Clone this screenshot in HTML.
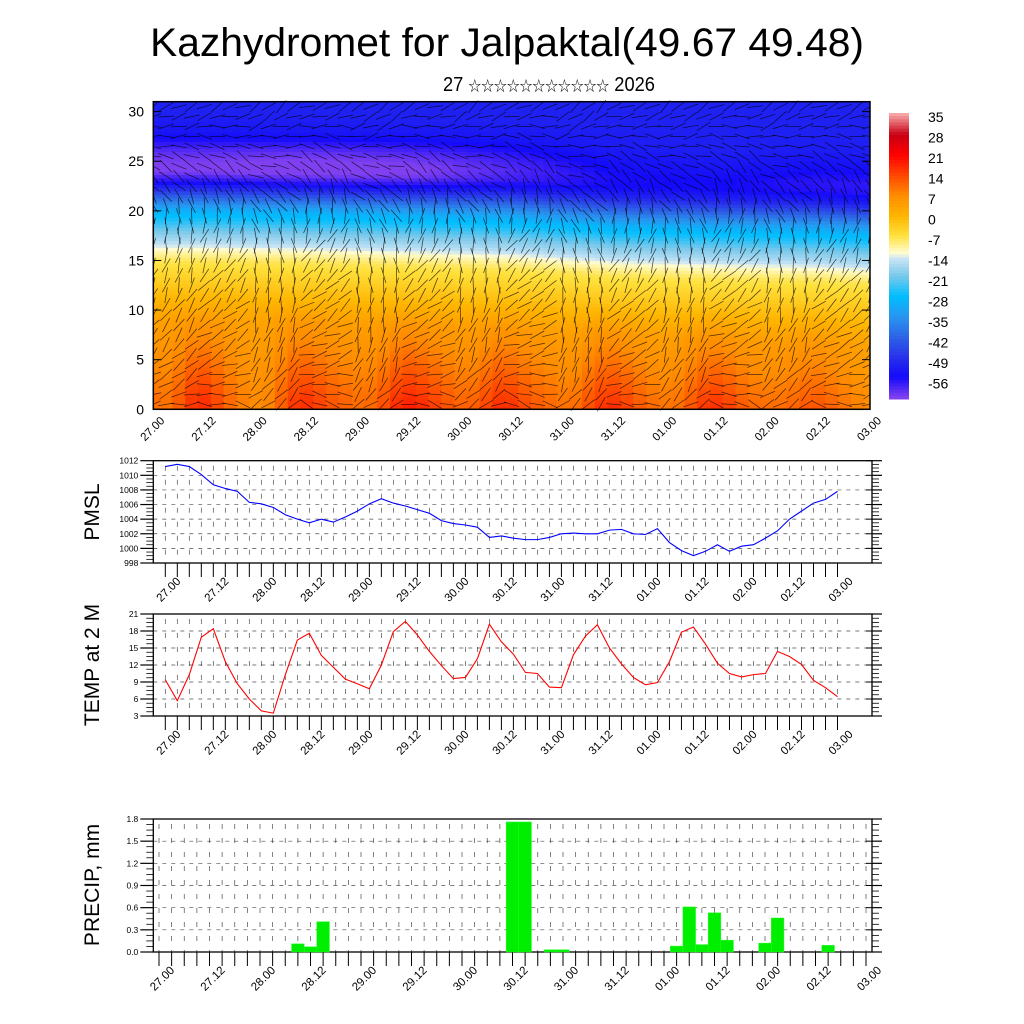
<!DOCTYPE html>
<html><head><meta charset="utf-8"><style>
html,body{margin:0;padding:0;background:#fff;}
svg{display:block;font-family:"Liberation Sans","Noto Sans CJK SC",sans-serif;}
</style></head><body>
<svg id="chart" width="1024" height="1024" viewBox="0 0 1024 1024" xmlns="http://www.w3.org/2000/svg">
<text x="150" y="56" font-size="40" textLength="714" lengthAdjust="spacingAndGlyphs">Kazhydromet for Jalpaktal(49.67 49.48)</text>
<text x="443" y="91" font-size="20" textLength="212" lengthAdjust="spacingAndGlyphs">27 <tspan font-size="14">☆☆☆☆☆☆☆☆☆☆☆</tspan> 2026</text>
<g id="topPanel"></g>
<g id="cbar"></g>
<g id="pmsl"></g>
<g id="temp"></g>
<g id="prec"></g>
</svg>
<script>
const timeLabels=["27.00","27.12","28.00","28.12","29.00","29.12","30.00","30.12","31.00","31.12","01.00","01.12","02.00","02.12","03.00"];
const pmslValues=[1011.2,1011.5,1011.2,1010.1,1008.7,1008.2,1007.8,1006.3,1006.1,1005.6,1004.6,1004.0,1003.5,1004.0,1003.6,1004.3,1005.1,1006.1,1006.8,1006.2,1005.8,1005.3,1004.8,1003.8,1003.4,1003.2,1002.9,1001.5,1001.7,1001.4,1001.2,1001.2,1001.5,1002.0,1002.1,1002.0,1002.0,1002.5,1002.6,1002.0,1001.9,1002.7,1000.8,999.7,999.0,999.6,1000.5,999.6,1000.3,1000.5,1001.4,1002.4,1004.0,1005.1,1006.2,1006.7,1007.8];
const tempValues=[9.4,5.7,10.3,16.9,18.4,12.6,8.7,6.0,3.9,3.5,10.3,16.4,17.6,13.7,11.6,9.5,8.7,7.8,12.0,17.9,19.7,17.3,14.4,11.9,9.6,9.8,13.1,19.2,16.1,13.9,10.7,10.5,8.1,8.0,13.8,17.1,19.1,15.0,12.2,9.8,8.5,8.9,12.6,17.8,18.7,15.7,12.3,10.5,9.9,10.3,10.5,14.4,13.5,12.1,9.3,8.0,6.4];
const precipValues=[0,0,0,0,0,0,0,0,0,0,0,0.11,0.07,0.41,0,0,0,0,0,0,0,0,0,0,0,0,0,0,1.76,1.76,0,0.03,0.03,0,0,0,0,0,0,0,0,0.08,0.61,0.10,0.53,0.16,0,0,0.12,0.46,0,0,0,0.09,0,0,0];
const pmslTicks=[998,1000,1002,1004,1006,1008,1010,1012];
const tempTicks=[3,6,9,12,15,18,21];
const precipTicks=["0.0","0.3","0.6","0.9","1.2","1.5","1.8"];
const heightTicks=[0,5,10,15,20,25,30];
const tempProfile=[12,11,10,9,8,7,6,5,4,2,0,-2,-4,-6,-8,-12,-17,-21,-26,-30,-37,-45,-53,-58,-59,-58,-56,-54,-53,-52,-52];
const upperAnomByDay=[-5,-6,-5,-1,3,4,2,2];
const levelShiftByDay=[0.5,0.3,0,-0.3,-1,-1.3,-1.5,-2];
const cbarLabels=[35,28,21,14,7,0,-7,-14,-21,-28,-35,-42,-49,-56];
const windDirByLevel=[80,70,60,55,50,45,40,40,35,30,30,25,20,20,15,10,10,5,0,-10,-20,-30,-40,-50,-60,-70,-80,-90,-100,-110,-120];
const windDirByHalfDay=[0,20,-25,30,-30,25,-20,35,-35,15,-25,30,-20,20,0];

const NS="http://www.w3.org/2000/svg";
function el(tag,attrs,parent,txt){const e=document.createElementNS(NS,tag);for(const k in attrs)e.setAttribute(k,attrs[k]);if(txt!==undefined)e.textContent=txt;parent.appendChild(e);return e;}
const stops=[[-63,[128,64,240]],[-56,[20,10,250]],[-49,[40,50,235]],[-42,[45,100,230]],[-35,[40,150,240]],[-28,[0,190,255]],[-21,[120,200,235]],[-15,[200,228,245]],[-13,[255,252,210]],[-7,[255,225,60]],[0,[255,180,0]],[7,[255,140,0]],[14,[255,70,0]],[21,[255,0,0]],[28,[200,0,20]],[35,[245,165,165]]];
function colorOf(v){if(v<=stops[0][0])return `rgb(${stops[0][1]})`;for(let i=1;i<stops.length;i++){if(v<=stops[i][0]){const a=stops[i-1],b=stops[i];const t=(v-a[0])/(b[0]-a[0]);const c=a[1].map((x,k)=>Math.round(x+(b[1][k]-x)*t));return `rgb(${c})`;}}return `rgb(${stops[stops.length-1][1]})`;}
function lerpArr(arr,f){const i=Math.max(0,Math.min(arr.length-1,f));const a=Math.floor(i),b=Math.min(arr.length-1,a+1);return arr[a]+(arr[b]-arr[a])*(i-a);}

// ---------- top panel ----------
const topG=document.getElementById('topPanel');
const TL=153.3,TR=870,TT=101.7,TB=409.3;
const tx=i=>TL+(TR-TL)*i/(pmslValues.length-1);
const hy=h=>TB-(TB-TT)*h/31;
const cw=(TR-TL)/(pmslValues.length-1);
const SUB=3, rh=(TB-TT)/31/SUB;
for(let i=0;i<tempValues.length;i++){
  const dayF=i/8-0.5;
  const sh=lerpArr(levelShiftByDay,dayF), ua=lerpArr(upperAnomByDay,dayF);
  const tS=(i>0?tempValues[i-1]:tempValues[i])*0.25+tempValues[i]*0.5+(i<56?tempValues[i+1]:tempValues[i])*0.25;
  for(let s=0;s<31*SUB;s++){
    const h=(s+0.5)/SUB;
    const w=Math.max(0,1-h/11);
    const uw=Math.max(0,1-Math.abs(h-24)/4);
    const v=lerpArr(tempProfile,h-0.5-sh)+(tS-11)*0.8*w+ua*uw;
    const x0=Math.max(TL,tx(i)-cw/2),x1=Math.min(TR,tx(i)+cw/2);
    const r=el('rect',{x:x0,y:TB-rh*(s+1),width:x1-x0+0.6,height:rh+0.6,fill:colorOf(v)},topG);
    
    
  }
}
const wg=el('g',{stroke:'#000','stroke-width':0.75,'stroke-opacity':0.7},topG);
for(let i=0;i<tempValues.length;i++){
  for(let j=0;j<31;j++){
    const a=(windDirByLevel[j]+windDirByHalfDay[Math.floor(i/4)]*(1-j/40)+((i*7+j*13)%5-2)*8)*Math.PI/180;
    const x=tx(i),y=hy(j+0.5),L=8;
    const dx=Math.sin(a)*L,dy=Math.cos(a)*L;
    const ln=el('line',{x1:x-dx,y1:y+dy,x2:x+dx,y2:y-dy},wg);
    
    
  }
}
el('rect',{x:0,y:0,width:TL,height:TB+2,fill:'#fff'},topG);
el('rect',{x:TR,y:0,width:16,height:TB+2,fill:'#fff'},topG);
el('rect',{x:TL,y:TT,width:TR-TL,height:TB-TT,fill:'none',stroke:'#000','stroke-width':1.5},topG);
heightTicks.forEach(h=>{
  el('line',{x1:TL,x2:TL+8,y1:hy(h),y2:hy(h),stroke:'#000'},topG);
  el('line',{x1:TR,x2:TR-8,y1:hy(h),y2:hy(h),stroke:'#000'},topG);
  const t=el('text',{x:144,y:hy(h)+5,'font-size':14,'text-anchor':'end'},topG,h);
  
  
});
timeLabels.forEach((lb,k)=>{
  const x=TL+(TR-TL)*k/(timeLabels.length-1);
  const t=el('text',{transform:`translate(${x+12},${TB+12}) rotate(-45)`,'font-size':11.5,'text-anchor':'end'},topG,lb);
  
  
});

// ---------- colour bar ----------
const cb=document.getElementById('cbar');
const CB0=113,CB1=399,n=91;
for(let k=0;k<n;k++){
  const v=35-(98*k/(n-1));
  el('rect',{x:889,y:CB0+(CB1-CB0)*k/n,width:20,height:(CB1-CB0)/n+0.5,fill:colorOf(v)},cb);
}
cbarLabels.forEach((v,k)=>{
  const t=el('text',{x:928,y:122+k*20.5,'font-size':14},cb,v);
  
  
});

// ---------- line/bar panels ----------
function panel(g,pt,bot,min,max,ticks,title,titleY,x0,x1,L,R){
  const y=v=>bot-(bot-pt)*(v-min)/(max-min);
  const x=i=>x0+(x1-x0)*i/56;
  const gg=el('g',{stroke:'#000','stroke-width':0.7,'stroke-dasharray':'4,5','stroke-opacity':0.7},g);
  ticks.forEach(t=>el('line',{x1:L,x2:R,y1:y(+t),y2:y(+t)},gg));
  for(let i=0;i<=56;i++){el('line',{x1:x(i),x2:x(i),y1:pt+5,y2:bot,'stroke-dasharray':'5,9'},gg);}
  for(let i=0;i<=56;i++)el('line',{x1:x(i),x2:x(i),y1:bot,y2:bot+14,stroke:'#000','stroke-width':1},g);
  const step=(+ticks[1])-(+ticks[0]);
  for(let k=0;k<ticks.length;k++){
    const v=+ticks[k];
    el('line',{x1:L-13,x2:L,y1:y(v),y2:y(v),stroke:'#000','stroke-width':1.2},g);
    el('line',{x1:R,x2:R+10,y1:y(v),y2:y(v),stroke:'#000','stroke-width':1.2},g);
    el('line',{x1:R-6,x2:R,y1:y(v),y2:y(v),stroke:'#000','stroke-width':1},g);
    if(k<ticks.length-1)for(let m=1;m<4;m++){const vv=v+step*m/4;
      el('line',{x1:L-7,x2:L,y1:y(vv),y2:y(vv),stroke:'#000','stroke-width':0.8},g);
      el('line',{x1:R,x2:R+7,y1:y(vv),y2:y(vv),stroke:'#000','stroke-width':0.8},g);}
    const t=el('text',{x:L-15,y:y(v)+3,'font-size':8.5,'text-anchor':'end'},g,ticks[k]);
    
    
  }
  el('rect',{x:L,y:pt,width:R-L,height:bot-pt,fill:'none',stroke:'#000','stroke-width':1.3},g);
  timeLabels.forEach((lb,k)=>{
    const xx=x0+(x1-x0)*k/14;
    const t=el('text',{transform:`translate(${xx+16},${bot+19}) rotate(-45)`,'font-size':11.5,'text-anchor':'end'},g,lb);
    
    
  });
  const tt=el('text',{transform:`translate(99,${titleY}) rotate(-90)`,'font-size':21,'text-anchor':'middle'},g,title);
  
  
  return {x,y};
}
const P=panel(document.getElementById('pmsl'),460.7,563,998,1012,pmslTicks,'PMSL',512,165.3,837.5,153.3,872);
const pl=el('polyline',{points:pmslValues.map((v,i)=>P.x(i)+','+P.y(v)).join(' '),fill:'none',stroke:'#0000ff','stroke-width':1.1},document.getElementById('pmsl'));



const T=panel(document.getElementById('temp'),614,716,3,21,tempTicks,'TEMP at 2 M',665,165.3,837.5,153.3,872);
const tl=el('polyline',{points:tempValues.map((v,i)=>T.x(i)+','+T.y(v)).join(' '),fill:'none',stroke:'#ff0000','stroke-width':1.1},document.getElementById('temp'));



const pg=document.getElementById('prec');
const Q=panel(pg,819,952,0,1.8,precipTicks,'PRECIP, mm',885,159,866,153.3,872);
const bw=(866-159)/56;
precipValues.forEach((v,i)=>{
  if(v<=0)return;
  const b=el('rect',{x:Q.x(i)-bw/2,y:Q.y(v),width:bw,height:Q.y(0)-Q.y(v),fill:'#00ee00',stroke:'#22ff22','stroke-width':0.5},pg);
  
  
});
</script>
</body></html>
